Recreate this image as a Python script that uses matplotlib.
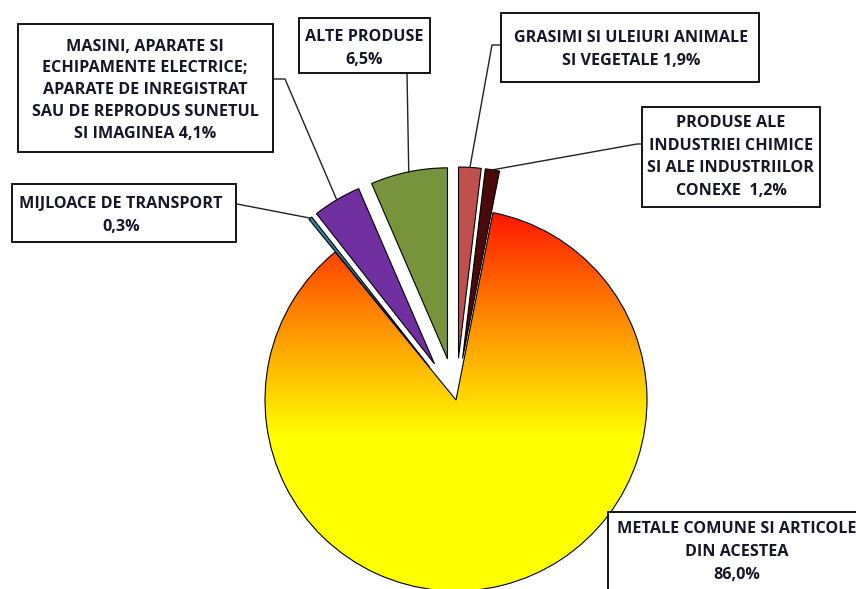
import numpy as np
import matplotlib
matplotlib.use("Agg")
import matplotlib.pyplot as plt
from matplotlib.colors import LinearSegmentedColormap

# data
categories = [
    "GRASIMI SI ULEIURI ANIMALE\nSI VEGETALE 1,9%",
    "PRODUSE ALE\nINDUSTRIEI CHIMICE\nSI ALE INDUSTRIILOR\nCONEXE  1,2%",
    "METALE COMUNE SI ARTICOLE\nDIN ACESTEA\n86,0%",
    "MIJLOACE DE TRANSPORT\n0,3%",
    "MASINI, APARATE SI\nECHIPAMENTE ELECTRICE;\nAPARATE DE INREGISTRAT\nSAU DE REPRODUS SUNETUL\nSI IMAGINEA 4,1%",
    "ALTE PRODUSE\n6,5%",
]
shares = [1.9, 1.2, 86.0, 0.3, 4.1, 6.5]
colors = ["#C0504D", "#4A0A0A", "none", "#31859C", "#7030A0", "#77933C"]
pulled = [True, True, False, True, True, True]

W, H = 856, 589
fig = plt.figure(figsize=(W / 100, H / 100), dpi=100)
ax = fig.add_axes([0, 0, 1, 1])

cx, cy, R = 456, H - 400, 191
# pie explode is in data units here
explode = [0.22 * R if p else 0 for p in pulled]
wedges, _ = ax.pie(shares, colors=colors, explode=explode, startangle=90,
                   counterclock=False, center=(cx, cy), radius=R,
                   wedgeprops=dict(edgecolor="black", linewidth=0.8))
ax.set_xlim(0, W)
ax.set_ylim(0, H)
ax.set_aspect("equal")
ax.axis("off")

# gradient fill for the big slice (red on top -> yellow)
big = wedges[2]
big.set_zorder(3)
cmap = LinearSegmentedColormap.from_list("ry", ["#FF1000", "#FF8C00", "#FFFF00"])
ys = np.linspace(0, 1, 300).reshape(-1, 1)
img = ax.imshow(ys, cmap=cmap, aspect="auto", origin="upper",
                extent=(cx - R, cx + R, H - 437, H - 205), zorder=2)
img.set_clip_path(big)
low = ax.imshow([[1.0]], cmap=cmap, vmin=0, vmax=1, aspect="auto",
                extent=(cx - R, cx + R, cy - R - 5, H - 437), zorder=2)
low.set_clip_path(big)


def mid_point(w):
    a = np.deg2rad((w.theta1 + w.theta2) / 2)
    return w.center[0] + w.r * np.cos(a), w.center[1] + w.r * np.sin(a)


# label boxes: (left, top, right, bottom) in pixels from top-left, leader path
boxes = [
    ((501, 13, 759, 82), [(492, 45), (501, 45)]),
    ((642, 107, 820, 207), [(637, 144), (642, 144)]),
    ((608, 512, 870, 600), None),
    ((12, 184, 236, 242), [(237, 204)]),
    ((18, 24, 273, 152), [(285, 79), (273, 79)]),
    ((299, 18, 430, 73), [(407, 73)]),
]
text_y = [[38, 61], [123, 146, 168, 191], [529, 552, 575], [204, 227],
          [47, 68, 90, 112, 134], [37, 60]]
text_x = [631, 731, 737, 121, 145, 364]

for i, ((l, t, r, b), path) in enumerate(boxes):
    ax.add_patch(plt.Rectangle((l, H - b), r - l, b - t, facecolor="white",
                               edgecolor="black", linewidth=1.3, zorder=5,
                               clip_on=False))
    for line, yy in zip(categories[i].split("\n"), text_y[i]):
        ax.text(text_x[i], H - yy, line, ha="center", va="center",
                fontsize=11.6, fontweight="bold", family="Open Sans",
                color="#161628", zorder=6)
    if path:
        px, py = mid_point(wedges[i])
        xs = [px] + [p[0] for p in path]
        yv = [py] + [H - p[1] for p in path]
        ax.plot(xs, yv, color="#222222", linewidth=1.0, zorder=4)

fig.savefig("out.png", dpi=100)
